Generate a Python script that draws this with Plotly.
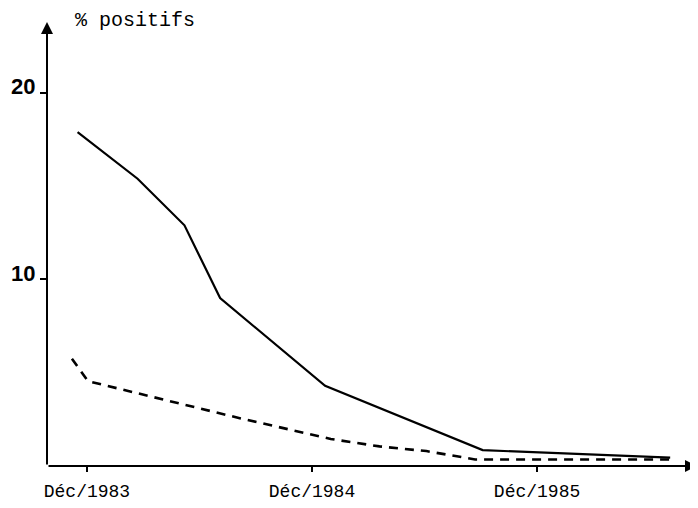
import plotly.graph_objects as go

# Months relative to December 1983
solid_x = [-0.5, 2.7, 5.2, 7.1, 12.7, 21.1, 31.1]
solid_y = [17.9, 15.4, 12.9, 9.0, 4.3, 0.85, 0.45]

dashed_x = [-0.8, 0.05, 8.2, 13.0, 15.6, 18.1, 20.7, 31.1]
dashed_y = [5.75, 4.55, 2.55, 1.45, 1.05, 0.8, 0.35, 0.35]

x_tickvals = [0, 12, 24]
x_ticktext = ["Déc/1983", "Déc/1984", "Déc/1985"]
y_tickvals = [10, 20]
y_ticktext = ["10", "20"]
y_title = "% positifs"

X_MIN, X_MAX = -2.13, 32.53
Y_MIN, Y_MAX = 0, 23.8

MONO = "Liberation Mono, DejaVu Sans Mono, monospace"

fig = go.Figure()
fig.add_trace(go.Scatter(x=solid_x, y=solid_y, mode="lines",
                         line=dict(color="black", width=2.2), showlegend=False))
fig.add_trace(go.Scatter(x=dashed_x, y=dashed_y, mode="lines",
                         line=dict(color="black", width=2.6, dash="9px,7px"),
                         showlegend=False))

# axes with arrowheads
fig.add_annotation(x=X_MAX, y=Y_MIN, ax=X_MIN, ay=Y_MIN, xref="x", yref="y",
                   axref="x", ayref="y", showarrow=True, arrowhead=2,
                   arrowsize=1.2, arrowwidth=2, arrowcolor="black", text="")
fig.add_annotation(x=X_MIN, y=Y_MAX, ax=X_MIN, ay=Y_MIN, xref="x", yref="y",
                   axref="x", ayref="y", showarrow=True, arrowhead=2,
                   arrowsize=1.2, arrowwidth=2, arrowcolor="black", text="")

# y tick labels (sitting just above their ticks, as in the original)
for v, t in zip(y_tickvals, y_ticktext):
    fig.add_annotation(x=0, y=v, xref="paper", yref="y", text=t, showarrow=False,
                       xanchor="right", yanchor="middle", xshift=-10, yshift=6,
                       font=dict(family="Liberation Sans, Arial, sans-serif",
                                 size=22, color="black", weight="bold"))

fig.add_annotation(x=-0.75, y=1.004, xref="x", yref="paper", text=y_title,
                   showarrow=False, xanchor="left", yanchor="middle",
                   font=dict(family=MONO, size=20, color="black"))

fig.update_layout(
    width=690, height=500,
    margin=dict(l=39, r=1, t=14, b=42),
    plot_bgcolor="white", paper_bgcolor="white",
    xaxis=dict(range=[X_MIN, X_MAX], showgrid=False, zeroline=False,
               showline=False, tickvals=x_tickvals, ticktext=x_ticktext,
               ticks="outside", ticklen=5, tickwidth=2, tickcolor="black",
               ticklabelstandoff=3, automargin=False,
               tickfont=dict(family=MONO, size=18, color="black")),
    yaxis=dict(range=[Y_MIN, Y_MAX], showgrid=False, zeroline=False,
               showline=False, tickvals=y_tickvals, showticklabels=False,
               ticks="outside", ticklen=6, tickwidth=2, tickcolor="black",
               automargin=False),
)

fig.write_html("out.html")
